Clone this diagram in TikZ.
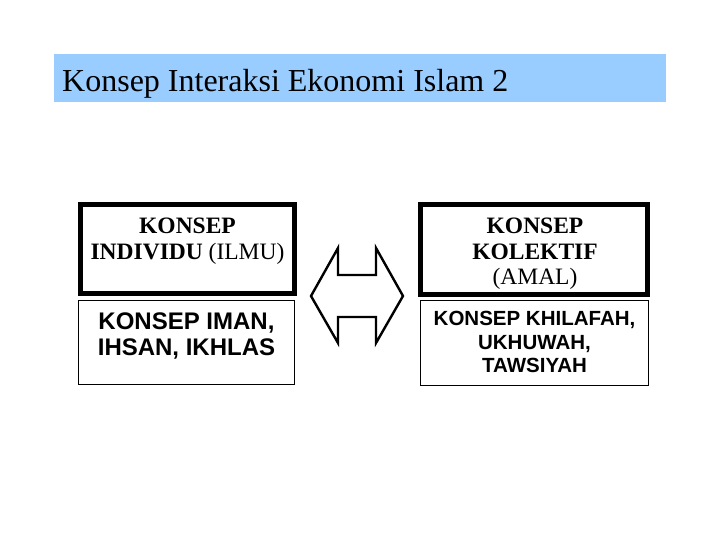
\documentclass[tikz,border=0pt]{standalone}
\usepackage{fontspec}
\setmainfont{Liberation Serif}
\setsansfont{Liberation Sans}
\definecolor{bandblue}{HTML}{99CCFF}
\tikzset{
  thickbox/.style={draw=black, line width=5pt, fill=white},
  thinbox/.style={draw=black, line width=1pt, fill=white},
  boxtext/.style={anchor=north, align=center, inner sep=0pt, text=black},
  dblarrow/.style={draw=black, line width=2.4pt, line join=miter, fill=white}
}
\begin{document}
\begin{tikzpicture}[x=1pt,y=-1pt]
\useasboundingbox (0,0) rectangle (720,540);
\fill[white] (0,0) rectangle (720,540);
% title band
\fill[bandblue] (54,54) rectangle (666,102);
\node[anchor=base west, inner sep=0pt, font=\fontsize{32}{36}\selectfont] (title) at (62,92) {Konsep Interaksi Ekonomi Islam 2};
% boxes
\draw[thickbox] (80.5,204.5) rectangle (294.5,293.5);
\coordinate (indtop) at (187.5,218);
\node[boxtext, font=\fontsize{23.5}{26}\selectfont] (ind) at (indtop) {\textbf{KONSEP}\\\textbf{INDIVIDU} (ILMU)};
\draw[thickbox] (420.5,204.5) rectangle (647.5,294.5);
\coordinate (koltop) at (535,218);
\node[boxtext, font=\fontsize{23.5}{25.5}\selectfont] (kol) at (koltop) {\textbf{KONSEP}\\\textbf{KOLEKTIF}\\(AMAL)};
\draw[thinbox] (78.5,300.5) rectangle (294.5,384.5);
\coordinate (imantop) at (186.5,313);
\node[boxtext, font=\sffamily\bfseries\fontsize{24}{25.5}\selectfont] (iman) at (imantop) {KONSEP IMAN,\\IHSAN, IKHLAS};
\draw[thinbox] (420.5,300.5) rectangle (648.5,385.5);
\coordinate (khiltop) at (534.5,311);
\node[boxtext, font=\sffamily\bfseries\fontsize{20.5}{23.5}\selectfont] (khil) at (khiltop) {KONSEP KHILAFAH,\\UKHUWAH,\\TAWSIYAH};
% double arrow
\draw[dblarrow] (311,296) -- (338,248) -- (338,275) -- (376,275) -- (376,248) -- (403,296) -- (376,343) -- (376,317) -- (338,317) -- (338,343) -- cycle;
\end{tikzpicture}
\end{document}
